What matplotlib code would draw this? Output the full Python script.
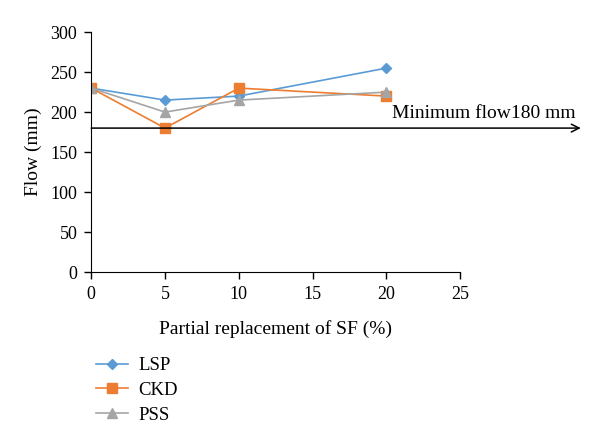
import matplotlib
matplotlib.use("Agg")
import matplotlib.pyplot as plt
from matplotlib.transforms import blended_transform_factory

# data
replacement = [0, 5, 10, 20]
lsp = [230, 215, 220, 255]
ckd = [230, 180, 230, 220]
pss = [230, 200, 215, 225]
min_flow = 180

plt.rcParams['font.family'] = ['Liberation Serif', 'DejaVu Serif']
plt.rcParams['font.size'] = 13

fig = plt.figure(figsize=(6, 4.46), dpi=100)
ax = fig.add_axes([0.152, 0.39, 0.615, 0.538])

ax.plot(replacement, lsp, color='#5B9BD5', marker='D', markersize=5, lw=1.2, label='LSP')
ax.plot(replacement, ckd, color='#ED7D31', marker='s', markersize=6.5, lw=1.2, label='CKD')
ax.plot(replacement, pss, color='#A5A5A5', marker='^', markersize=7.5, lw=1.2, label='PSS')

# minimum flow line with arrow running past the axes
ax.annotate('', xy=(0.968, min_flow), xycoords=('figure fraction', 'data'),
            xytext=(0, min_flow), textcoords='data',
            arrowprops=dict(arrowstyle='->', color='black', lw=1.1,
                            shrinkA=0, shrinkB=0, mutation_scale=14),
            annotation_clip=False)
trans = blended_transform_factory(fig.transFigure, ax.transData)
ax.text(0.653, 188, 'Minimum flow180 mm', transform=trans,
        ha='left', va='bottom', fontsize=14)

ax.set_xlim(0, 25)
ax.set_ylim(0, 300)
ax.set_xticks([0, 5, 10, 15, 20, 25])
ax.set_yticks(range(0, 301, 50))
ax.spines['top'].set_visible(False)
ax.spines['right'].set_visible(False)
ax.tick_params(direction='out', length=5, width=1, labelsize=13, pad=5)
ax.set_xlabel('Partial replacement of SF (%)', fontsize=14, labelpad=12)
ax.set_ylabel('Flow (mm)', fontsize=14, labelpad=6)

fig.legend(loc='upper left', bbox_to_anchor=(0.132, 0.237), frameon=False,
           handlelength=1.7, labelspacing=0.4, fontsize=13.5, handletextpad=0.55)

plt.savefig('out.png', dpi=100)
